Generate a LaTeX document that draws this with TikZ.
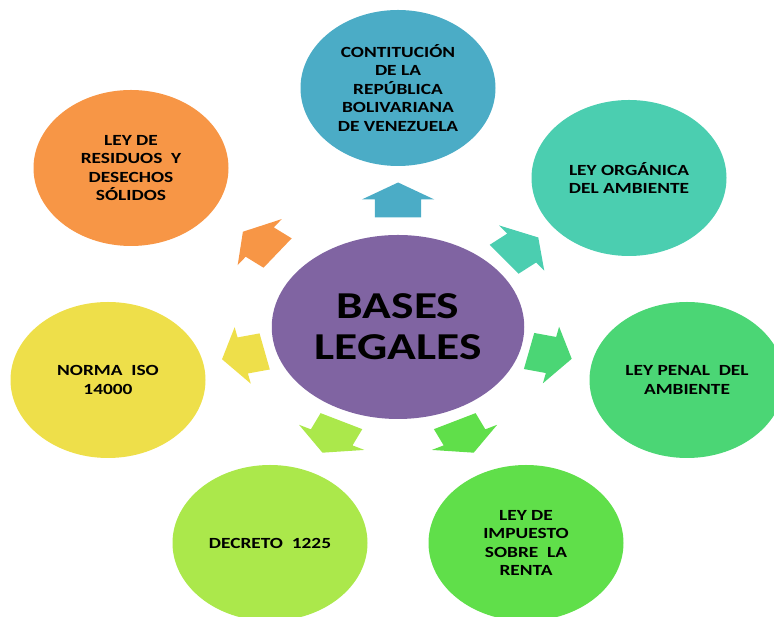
\documentclass[tikz,border=0pt]{standalone}
\usepackage{fontspec}
\setmainfont{Carlito}
\usetikzlibrary{shapes}
\usetikzlibrary{calc}

\definecolor{basec}{HTML}{8064A2}
\definecolor{constc}{HTML}{4BACC6}
\definecolor{organc}{HTML}{4BCEB0}
\definecolor{penalc}{HTML}{4BD675}
\definecolor{rentac}{HTML}{60DF4A}
\definecolor{decrc}{HTML}{ABE84B}
\definecolor{isoc}{HTML}{EEDF4A}
\definecolor{resic}{HTML}{F79646}

\tikzset{
    every node/.style={transform shape},
    circ/.style={circle, minimum size=156pt, inner sep=0pt, align=center,
        font=\bfseries\fontsize{15.5}{18.5}\selectfont},
    blockarrow/.pic={
        \path[pic actions] (-17.5,-18.5) -- (0.5,-18.5) -- (0.5,-29) -- (17.5,0)
            -- (0.5,29) -- (0.5,18.5) -- (-17.5,18.5) -- cycle;
    },
}

\begin{document}
\begin{tikzpicture}[xscale=1.25, x=1pt, y=1pt]
        \useasboundingbox (0,0) rectangle (619.2,617);

        \node[ellipse, fill=basec, minimum width=202pt, minimum height=184pt, inner sep=0pt,
              align=center, font=\bfseries\fontsize{38}{41}\selectfont] (base) at (318.4,290) {BASES\\LEGALES};

        \node[circ, fill=constc] (const) at (318.4,529) {CONTITUCIÓN\\DE LA\\REPÚBLICA\\BOLIVARIANA\\DE VENEZUELA};
        \node[circ, fill=organc] (organ) at (503.2,439) {LEY ORGÁNICA\\DEL AMBIENTE};
        \node[circ, fill=penalc] (penal) at (549.6,237) {LEY PENAL\ \ DEL\\AMBIENTE};
        \node[circ, fill=rentac] (renta) at (420.8,74) {LEY DE\\IMPUESTO\\SOBRE\ \ LA\\RENTA};
        \node[circ, fill=decrc] (decr) at (216,74) {DECRETO\ \ 1225};
        \node[circ, fill=isoc] (iso) at (86.4,237) {NORMA\ \ ISO\\14000};
        \node[circ, fill=resic] (resi) at (104.8,449) {LEY DE\\RESIDUOS\ \ Y\\DESECHOS\\SÓLIDOS};

        % block arrows from the center outwards
        \pic[fill=constc, rotate=90] at ($(base)+(90:127)$) {blockarrow};
        \pic[fill=organc, rotate=38.6] at ($(base)+(38.6:126)$) {blockarrow};
        \pic[fill=penalc, rotate=-12.9] at ($(base)+(-12.9:125)$) {blockarrow};
        \pic[fill=rentac, rotate=-64.3] at ($(base)+(-64.3:122)$) {blockarrow};
        \pic[fill=decrc, rotate=-115.7] at ($(base)+(-115.7:122)$) {blockarrow};
        \pic[fill=isoc, rotate=192.9] at ($(base)+(192.9:127)$) {blockarrow};
        \pic[fill=resic, rotate=142.5] at ($(base)+(142.5:139)$) {blockarrow};
\end{tikzpicture}
\end{document}
